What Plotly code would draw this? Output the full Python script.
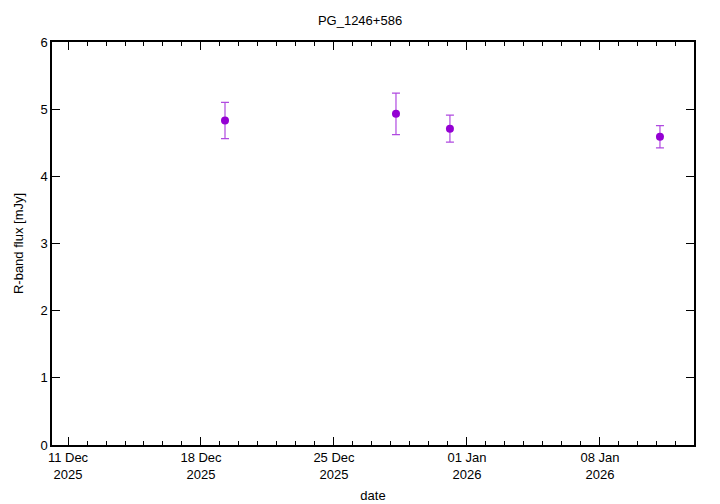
import plotly.graph_objects as go

dates = ["2025-12-19 06:20", "2025-12-28 06:20", "2025-12-31 02:30", "2026-01-11 03:50"]
flux = [4.83, 4.93, 4.71, 4.59]
flux_err = [0.27, 0.31, 0.20, 0.165]

title = "PG_1246+586"
xlabel = "date"
ylabel = "R-band flux [mJy]"

fig = go.Figure()
fig.add_trace(go.Scatter(
    x=dates, y=flux, mode="markers",
    marker=dict(color="#9400d3", size=8),
    error_y=dict(type="data", array=flux_err, visible=True,
                 color="#b04ae0", thickness=1.2, width=4),
    showlegend=False,
))

font = "Liberation Sans, Arial, sans-serif"
fig.update_layout(
    width=720, height=504,
    margin=dict(l=52, r=26, t=42, b=59),
    plot_bgcolor="white", paper_bgcolor="white",
    font=dict(family=font, size=13, color="black"),
    title=dict(text=title, x=0.5, xanchor="center", y=0.96, yanchor="middle",
               font=dict(size=13)),
)
fig.update_xaxes(
    type="date", automargin=False,
    range=["2025-12-10 03:47", "2026-01-12 22:50"],
    tick0="2025-12-11", dtick=7 * 86400000,
    tickformat="%d %b<br>%Y",
    ticks="inside", ticklen=8, tickcolor="black",
    mirror="allticks", showline=True, linecolor="black", linewidth=1.5,
    showgrid=False, zeroline=False,
    minor=dict(dtick=86400000, ticks="inside", ticklen=4, tickcolor="black", showgrid=False),
    title=dict(text=xlabel, standoff=10, font=dict(size=13)),
    tickfont=dict(size=13),
)
fig.update_yaxes(
    range=[0, 6], dtick=1, automargin=False,
    ticks="inside", ticklen=8, tickcolor="black",
    mirror="allticks", showline=True, linecolor="black", linewidth=1.5,
    showgrid=False, zeroline=False,
    title=dict(text=ylabel, standoff=14, font=dict(size=13)),
    tickfont=dict(size=13),
)
fig.write_html("out.html", config={"displayModeBar": False},
               post_script="document.body.style.margin='0px';")
